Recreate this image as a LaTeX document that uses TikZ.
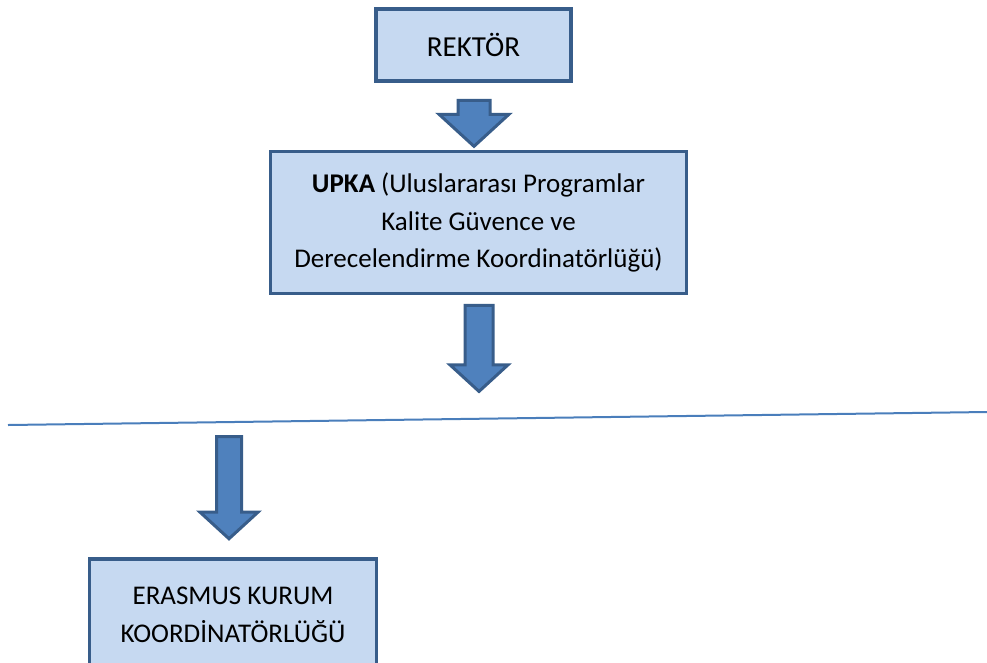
\documentclass[tikz,border=0pt]{standalone}
\usepackage{fontspec}
\setmainfont{Carlito}
\usetikzlibrary{shapes.arrows}

\definecolor{boxfill}{RGB}{198,217,241}
\definecolor{boxline}{RGB}{56,93,138}
\definecolor{arrowfill}{RGB}{79,129,189}
\definecolor{rulecol}{RGB}{74,126,187}

\tikzstyle{unit} = [rectangle, draw=boxline, line width=3.5pt, fill=boxfill, text centered, align=center, font=\fontsize{27}{37.5}\selectfont]
\tikzstyle{blockarrow} = [single arrow, draw=boxline, line width=3pt, fill=arrowfill, inner xsep=0pt, single arrow tip angle=95, rotate=-90]

\begin{document}
\begin{tikzpicture}[x=1pt, y=-1pt]
	\useasboundingbox (0,0) rectangle (987,662);
	% Place nodes
	\node [unit, minimum width=195pt, minimum height=72pt, font=\fontsize{29}{37.5}\selectfont] (Rektor) at (473.5,45) {REKTÖR};
	\node [unit, minimum width=416pt, minimum height=142pt] (Upka) at (478.5,222.5) {\textbf{UPKA} (Uluslararası Programlar\\Kalite Güvence ve\\Derecelendirme Koordinatörlüğü)};
	\node [unit, minimum width=287pt, minimum height=112pt] (Erasmus) at (233,615) {ERASMUS KURUM\\KOORDİNATÖRLÜĞÜ};
	% Separator line
	\coordinate (LineLeft) at (8,425);
	\coordinate (LineRight) at (987,412);
	\draw [rulecol, line width=2pt] (LineLeft) -- (LineRight);
	% Block arrows
	\node [blockarrow, minimum height=46pt, inner ysep=14.5pt, single arrow head extend=19pt] (RektorToUpka) at (474,116) {};
	\node [blockarrow, minimum height=86pt, inner ysep=12.5pt, single arrow head extend=15pt] (UpkaToLine) at (479,342) {};
	\node [blockarrow, minimum height=102pt, inner ysep=11pt, single arrow head extend=16.5pt] (LineToErasmus) at (229,482) {};
\end{tikzpicture}
\end{document}
